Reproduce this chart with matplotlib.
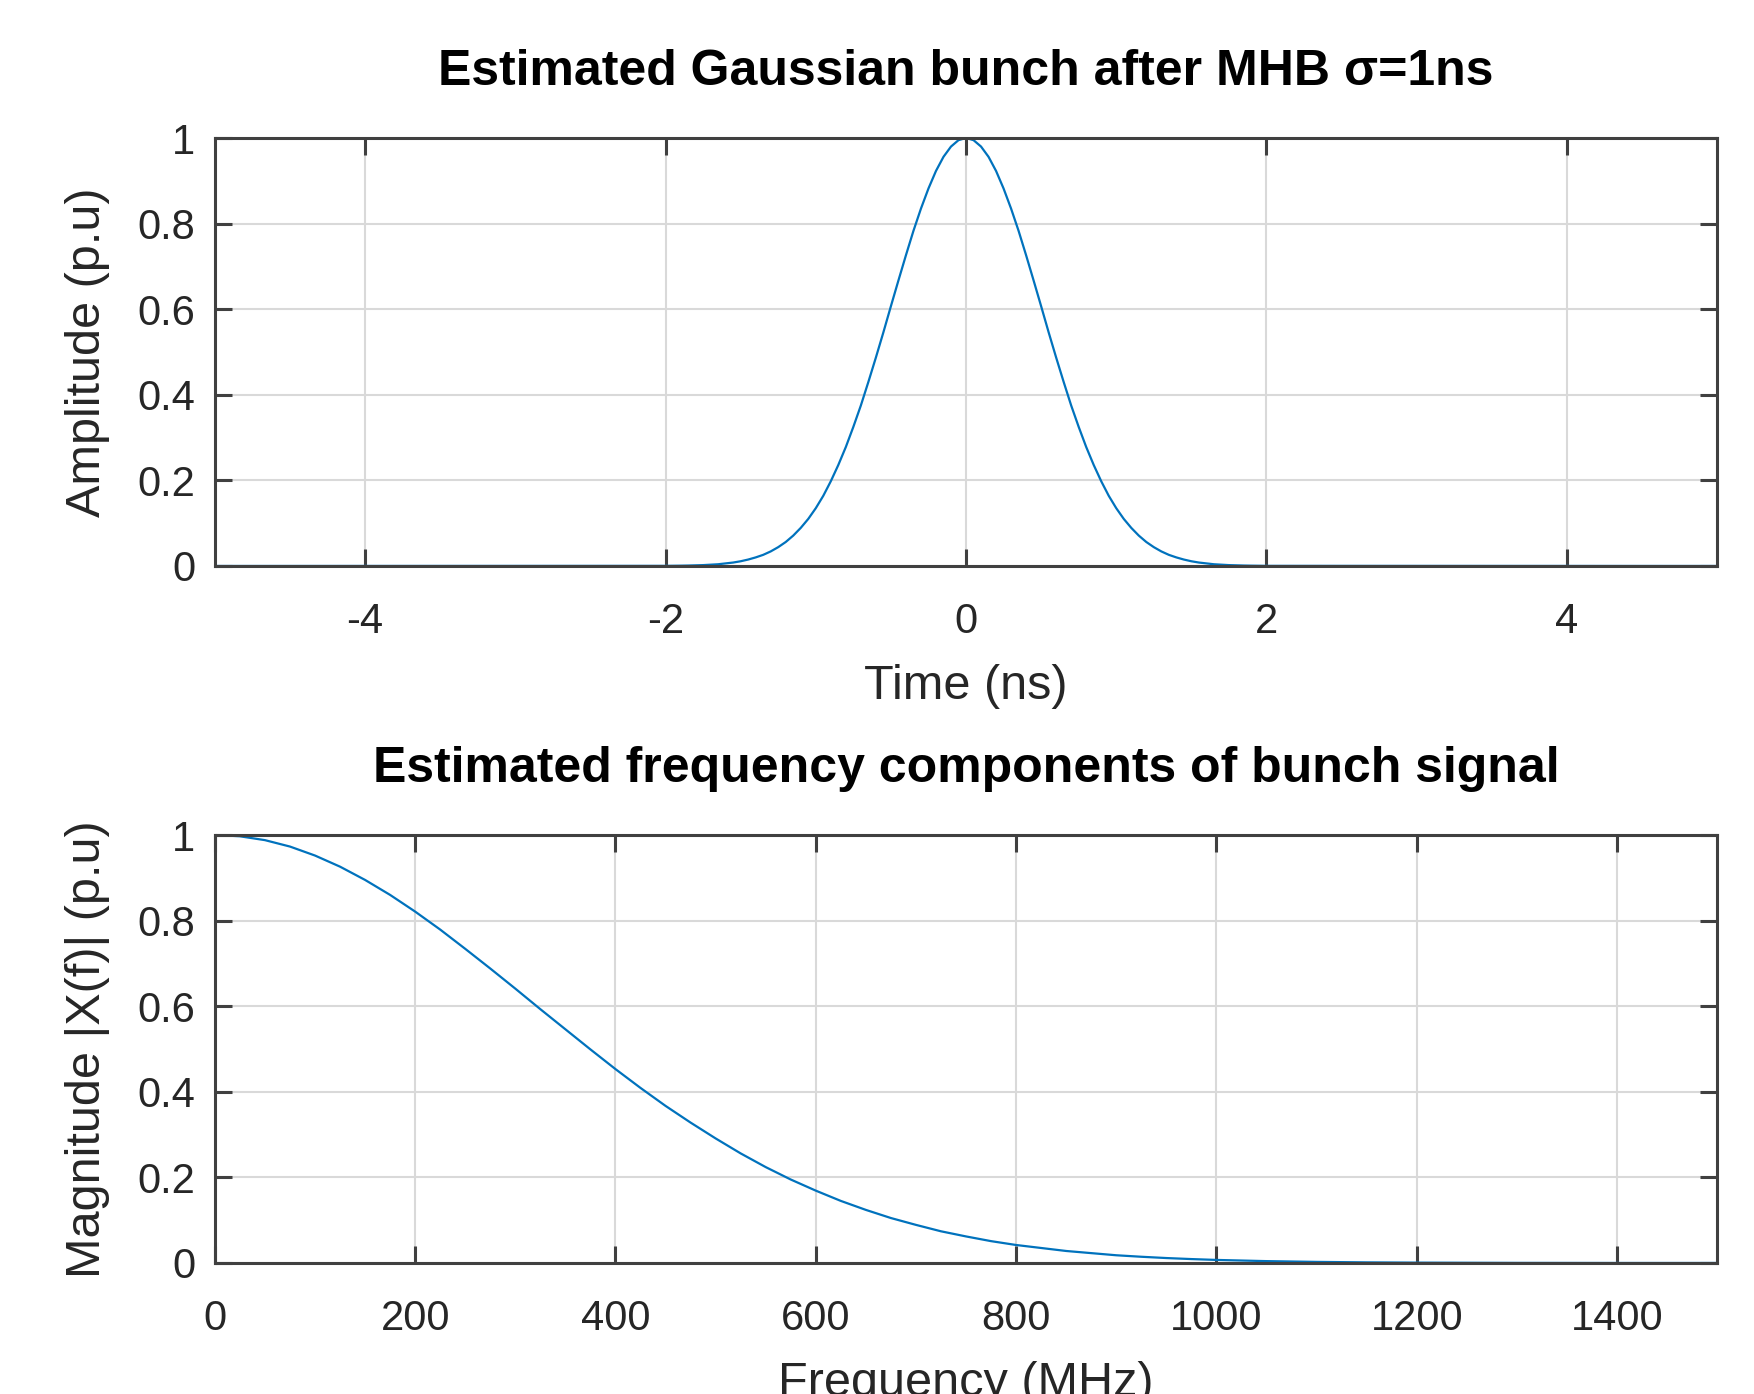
import numpy as np
import matplotlib
matplotlib.use('Agg')
import matplotlib.pyplot as plt

# values
time_ns = [-5.0, -2.0, -1.95, -1.9, -1.85, -1.8, -1.75, -1.7, -1.65, -1.6, -1.55, -1.5,
           -1.45, -1.4, -1.35, -1.3, -1.25, -1.2, -1.15, -1.1, -1.05, -1.0,
           -0.95, -0.9, -0.85, -0.8, -0.75, -0.7, -0.65, -0.6, -0.55, -0.5,
           -0.45, -0.4, -0.35, -0.3, -0.25, -0.2, -0.15, -0.1, -0.05, 0.0,
           0.05, 0.1, 0.15, 0.2, 0.25, 0.3, 0.35, 0.4, 0.45, 0.5,
           0.55, 0.6, 0.65, 0.7, 0.75, 0.8, 0.85, 0.9, 0.95, 1.0,
           1.05, 1.1, 1.15, 1.2, 1.25, 1.3, 1.35, 1.4, 1.45, 1.5,
           1.55, 1.6, 1.65, 1.7, 1.75, 1.8, 1.85, 1.9, 1.95, 2.0, 5.0]
amplitude = [0.0, 0.0003, 0.0005, 0.0007, 0.001, 0.0015, 0.002, 0.003, 0.004, 0.006, 0.008, 0.011,
             0.015, 0.020, 0.026, 0.034, 0.044, 0.056, 0.071, 0.089, 0.110, 0.135,
             0.164, 0.198, 0.236, 0.278, 0.325, 0.375, 0.430, 0.487, 0.546, 0.607,
             0.667, 0.726, 0.783, 0.835, 0.882, 0.923, 0.956, 0.980, 0.995, 1.0,
             0.995, 0.980, 0.956, 0.923, 0.882, 0.835, 0.783, 0.726, 0.667, 0.607,
             0.546, 0.487, 0.430, 0.375, 0.325, 0.278, 0.236, 0.198, 0.164, 0.135,
             0.110, 0.089, 0.071, 0.056, 0.044, 0.034, 0.026, 0.020, 0.015, 0.011,
             0.008, 0.006, 0.004, 0.003, 0.002, 0.0015, 0.001, 0.0007, 0.0005, 0.0003, 0.0]

freq_mhz = [0, 25, 50, 75, 100, 125, 150, 175, 200, 225, 250, 275, 300, 325, 350, 375,
            400, 425, 450, 475, 500, 525, 550, 575, 600, 625, 650, 675, 700, 725,
            750, 775, 800, 825, 850, 875, 900, 925, 950, 975, 1000, 1050, 1100, 1150,
            1200, 1300, 1400, 1500]
magnitude = [1.0, 0.997, 0.988, 0.973, 0.952, 0.926, 0.895, 0.860, 0.821, 0.779, 0.734,
             0.688, 0.641, 0.593, 0.546, 0.499, 0.453, 0.409, 0.367, 0.328, 0.291,
             0.256, 0.224, 0.195, 0.169, 0.145, 0.124, 0.105, 0.089, 0.074,
             0.062, 0.051, 0.042, 0.035, 0.028, 0.023, 0.018, 0.0145, 0.0115, 0.0091,
             0.0071, 0.0043, 0.0025, 0.0014, 0.0008, 0.0002, 0.0, 0.0]

plt.rcParams['font.family'] = ['Liberation Sans', 'DejaVu Sans']
plt.rcParams['axes.unicode_minus'] = False

fig = plt.figure(figsize=(17.54, 13.94), dpi=100)
ax1 = fig.add_axes([0.1225, 0.594, 0.8565, 0.307])
ax2 = fig.add_axes([0.1225, 0.094, 0.8565, 0.307])

line_col = '#0072BD'
txt_col = '#262626'

def style(ax):
    ax.grid(True, color='#d9d9d9', linewidth=1.5)
    ax.set_axisbelow(True)
    for s in ax.spines.values():
        s.set_color('#404040')
        s.set_linewidth(2.2)
    ax.tick_params(direction='in', length=12, width=2.2, color='#404040',
                   labelsize=30, labelcolor=txt_col, top=True, right=True, pad=14)
    ax.tick_params(axis='x', pad=26)

ax1.plot(time_ns, amplitude, color=line_col, linewidth=1.6)
ax1.set_xlim(-5, 5)
ax1.set_ylim(0, 1)
ax1.set_xticks([-4, -2, 0, 2, 4])
ax1.set_yticks([0, 0.2, 0.4, 0.6, 0.8, 1])
ax1.set_yticklabels(['0', '0.2', '0.4', '0.6', '0.8', '1'])
style(ax1)
ax1.set_title('Estimated Gaussian bunch after MHB σ=1ns', fontsize=36,
              fontweight='bold', pad=38)
ax1.set_xlabel('Time (ns)', fontsize=35, color=txt_col, labelpad=16)
ax1.set_ylabel('Amplitude (p.u)', fontsize=35, color=txt_col, labelpad=20)

ax2.plot(freq_mhz, magnitude, color=line_col, linewidth=1.6)
ax2.set_xlim(0, 1500)
ax2.set_ylim(0, 1)
ax2.set_xticks([0, 200, 400, 600, 800, 1000, 1200, 1400])
ax2.set_yticks([0, 0.2, 0.4, 0.6, 0.8, 1])
ax2.set_yticklabels(['0', '0.2', '0.4', '0.6', '0.8', '1'])
style(ax2)
ax2.set_title('Estimated frequency components of bunch signal', fontsize=36,
              fontweight='bold', pad=38)
ax2.set_xlabel('Frequency (MHz)', fontsize=35, color=txt_col, labelpad=16)
ax2.set_ylabel('Magnitude |X(f)| (p.u)', fontsize=35, color=txt_col, labelpad=20)

fig.savefig('out.png', dpi=100)
